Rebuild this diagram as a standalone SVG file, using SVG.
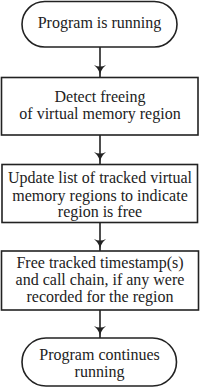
<svg xmlns="http://www.w3.org/2000/svg" width="200" height="387" viewBox="0 0 200 387">
<defs>
<style>
.shape{fill:#fff;stroke:#222;stroke-width:1.6}
.t{font-family:'Liberation Serif','DejaVu Serif',serif;font-size:16px;fill:#222;text-anchor:middle}
.c{stroke:#222;stroke-width:1.6;fill:none}
</style>
<marker id="ah" viewBox="0 0 12 12" refX="12" refY="6" markerWidth="12" markerHeight="12" markerUnits="userSpaceOnUse" orient="auto">
<path d="M0,0 Q5,6 12,6 Q5,6 0,12 Q3,6 0,0 Z" fill="#222"/>
</marker>
</defs>
<g id="connectors">
<line class="c" x1="100" y1="47" x2="100" y2="77" marker-end="url(#ah)"/>
<line class="c" x1="100" y1="135" x2="100" y2="164" marker-end="url(#ah)"/>
<line class="c" x1="100" y1="222.5" x2="100" y2="251" marker-end="url(#ah)"/>
<line class="c" x1="100" y1="310" x2="100" y2="338" marker-end="url(#ah)"/>
</g>
<g id="start">
<rect class="shape" x="22" y="1.5" width="155" height="45.5" rx="22.75"/>
<text class="t" x="99.5" y="28">Program is running</text>
</g>
<g id="detect">
<rect class="shape" x="1.5" y="77.5" width="196.5" height="57.5"/>
<text class="t" x="100" y="101.7">Detect freeing</text>
<text class="t" x="100" y="119">of virtual memory region</text>
</g>
<g id="update">
<rect class="shape" x="2" y="164.5" width="195.5" height="58"/>
<text class="t" x="100" y="183.3">Update list of tracked virtual</text>
<text class="t" x="100" y="200.5">memory regions to indicate</text>
<text class="t" x="100" y="217">region is free</text>
</g>
<g id="free">
<rect class="shape" x="1.5" y="251" width="197" height="59"/>
<text class="t" x="100" y="267.5">Free tracked timestamp(s)</text>
<text class="t" x="100" y="284.5">and call chain, if any were</text>
<text class="t" x="100" y="301.5">recorded for the region</text>
</g>
<g id="end">
<rect class="shape" x="22" y="338" width="154.5" height="48" rx="24"/>
<text class="t" x="99.5" y="360">Program continues</text>
<text class="t" x="99.5" y="377">running</text>
</g>
</svg>
